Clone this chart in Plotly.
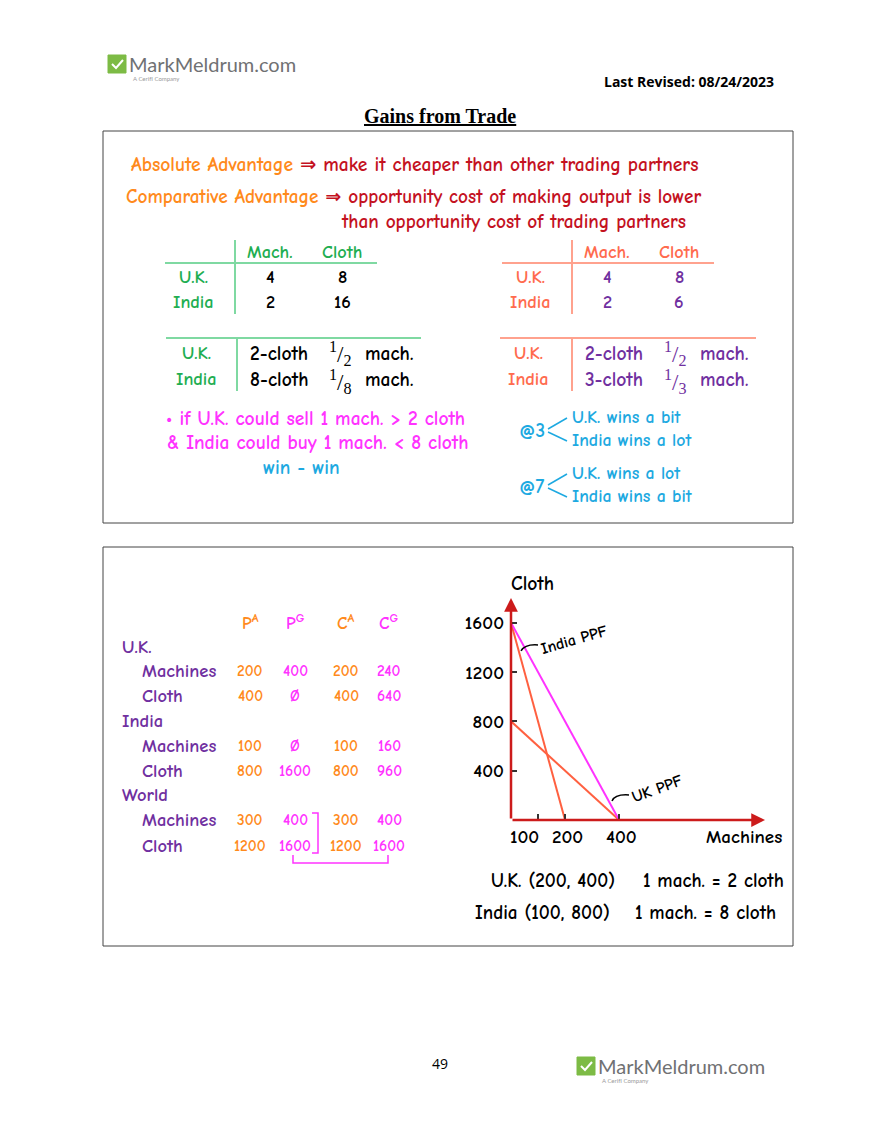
import plotly.graph_objects as go

# ==============================
# DATA
# ==============================

# opportunity-cost tables (top box)
t1_cols = ["Mach.", "Cloth"]
t1_rows = ["U.K.", "India"]
t1_left_vals = [["4", "8"], ["2", "16"]]
t1_right_vals = [["4", "8"], ["2", "6"]]

oc_left_cloth = ["2-cloth", "8-cloth"]
oc_left_den = ["2", "8"]
oc_right_cloth = ["2-cloth", "3-cloth"]
oc_right_den = ["2", "3"]

# trade table (bottom box)
trade_cols = ["P<sup>A</sup>", "P<sup>G</sup>", "C<sup>A</sup>", "C<sup>G</sup>"]
trade_groups = ["U.K.", "India", "World"]
trade_goods = ["Machines", "Cloth"]
p_autarky = ["200", "400", "100", "800", "300", "1200"]
p_gains = ["400", "Ø", "Ø", "1600", "400", "1600"]
c_autarky = ["200", "400", "100", "800", "300", "1200"]
c_gains = ["240", "640", "160", "960", "400", "1600"]

# PPF graph
machine_ticks = [100, 200, 400]
cloth_ticks = [400, 800, 1200, 1600]
india_ppf_x = [0, 200]
india_ppf_y = [1600, 0]
uk_ppf_x = [0, 400]
uk_ppf_y = [800, 0]
world_x = [0, 400]
world_y = [1600, 0]

# ==============================
# STYLE CONSTANTS
# ==============================

PAGE_W, PAGE_H = 880, 1139
OFF = 8  # body margin of the html page
W, H = PAGE_W - 2 * OFF, PAGE_H - 2 * OFF
HAND = "Comic Sans MS, Comic Neue, DejaVu Sans"
FS = 19.5
ORANGE = "#ff8a1c"
DARKRED = "#c4121f"
GREEN = "#1fae52"
GREEN_LINE = "#7fd9a2"
SALMON = "#ff6b4e"
SALMON_LINE = "#ffa28e"
PURPLE = "#7030a0"
MAGENTA = "#ff33ff"
CYAN = "#1da9e1"
AXIS_RED = "#cc1b1b"
PPF_ORANGE = "#ff6040"
LOGO_GREEN = "#7dbb45"
LOGO_GRAY = "#707173"

fig = go.Figure()


def px(x):
    return (x - OFF) / W


def py(y):
    return 1 - (y - OFF) / H


def text(x, y, s, size=FS, color="black", anchor="left", family=HAND,
         bold=True, angle=0):
    fig.add_annotation(
        x=px(x), y=py(y), xref="paper", yref="paper",
        text=f"<b>{s}</b>" if bold else s, showarrow=False,
        xanchor=anchor, yanchor="middle",
        textangle=angle,
        font=dict(family=family, size=size, color=color),
    )


def line(x0, y0, x1, y1, color, width=2):
    fig.add_shape(type="line", xref="paper", yref="paper",
                  x0=px(x0), y0=py(y0), x1=px(x1), y1=py(y1),
                  line=dict(color=color, width=width))


def path(cmds, color, width=2, fill=None):
    d = ""
    for c in cmds:
        if isinstance(c, str):
            d += c + " "
        else:
            d += f"{px(c[0]):.5f},{py(c[1]):.5f} "
    fig.add_shape(type="path", xref="paper", yref="paper", path=d.strip(),
                  line=dict(color=color, width=width),
                  fillcolor=fill if fill else "rgba(0,0,0,0)")


def rect(x0, y0, x1, y1, color="#444", width=1, fill=None):
    fig.add_shape(type="rect", xref="paper", yref="paper",
                  x0=px(x0), y0=py(y0), x1=px(x1), y1=py(y1),
                  line=dict(color=color, width=width),
                  fillcolor=fill if fill else "rgba(0,0,0,0)")


def logo(x, y):
    rect(x, y, x + 18, y + 18, color=LOGO_GREEN, width=1, fill=LOGO_GREEN)
    path(["M", (x + 4, y + 9), "L", (x + 8, y + 13), "L", (x + 15, y + 5)],
         "white", width=2)
    text(x + 19, y + 9, "MarkMeldrum.com", size=20, color=LOGO_GRAY,
         family="Lato, Open Sans", bold=False)
    text(x + 23, y + 23, "A CerifI Company", size=6, color="#9a9a9a",
         family="Lato, Open Sans", bold=False)


# ==============================
# HEADER / FOOTER
# ==============================

logo(108, 55)
text(776, 82, "Last Revised: 08/24/2023", size=14, anchor="right",
     family="Open Sans")
text(440, 116, "<u>Gains from Trade</u>", size=20, anchor="center",
     family="Liberation Serif")

text(440, 1063, "49", size=14, anchor="center", family="Open Sans", bold=False)
logo(577, 1057)

# ==============================
# TOP BOX
# ==============================

rect(103, 131, 793, 523)

text(129, 164, f'<span style="color:{ORANGE}">Absolute Advantage</span>'
     " ⇒ make it cheaper than other trading partners", color=DARKRED)
text(124, 197, f'<span style="color:{ORANGE}">Comparative Advantage</span>'
     " ⇒ opportunity cost of making output is lower", size=19.2,
     color=DARKRED)
text(339, 222, "than opportunity cost of trading partners", size=19.3,
     color=DARKRED)


def cost_table(x_split, row_x, col_x, head_color, line_color, val_color,
               vals):
    line(x_split - 70, 263, x_split + 142, 263, line_color)
    line(x_split, 240, x_split, 314, line_color)
    for cx, c in zip(col_x, t1_cols):
        text(cx, 252, c, size=18.3, color=head_color, anchor="center")
    for ry, r, row in zip([278, 302], t1_rows, vals):
        text(row_x, ry, r, size=18.3, color=head_color, anchor="center")
        for cx, v in zip(col_x, row):
            text(cx, ry, v, size=18.3, color=val_color, anchor="center")


cost_table(235, 193, [270, 342], GREEN, GREEN_LINE, "black", t1_left_vals)
cost_table(572, 530, [607, 679], SALMON, SALMON_LINE, PURPLE, t1_right_vals)


def oc_table(x0, x1, x_split, row_x, cloth_x, head_color, line_color,
             val_color, cloths, dens):
    line(x0, 338, x1, 338, line_color)
    line(x_split, 338, x_split, 391, line_color)
    for ry, r, cl, den in zip([353, 380], t1_rows, cloths, dens):
        text(row_x, ry, r, size=18.3, color=head_color, anchor="center")
        text(cloth_x - 1, ry, cl, color=val_color)
        text(cloth_x + 78, ry + 1, f"<sup>1</sup>/<sub>{den}</sub>", size=23,
             color=val_color, family="Liberation Serif", bold=False)
        text(cloth_x + 114, ry, "mach.", color=val_color)


oc_table(166, 421, 237, 196, 249, GREEN, GREEN_LINE, "black",
         oc_left_cloth, oc_left_den)
oc_table(500, 756, 572, 528, 584, SALMON, SALMON_LINE, PURPLE,
         oc_right_cloth, oc_right_den)

text(164, 418, "• if U.K. could sell 1 mach. > 2 cloth", color=MAGENTA)
text(165, 442, "& India could buy 1 mach. < 8 cloth", color=MAGENTA)
text(301, 467, "win - win", color=CYAN, anchor="center")

for cy, top, bottom in [(430, "U.K. wins a bit", "India wins a lot"),
                        (486, "U.K. wins a lot", "India wins a bit")]:
    text(517, cy, "@" + ("3" if cy == 430 else "7"), color=CYAN)
    line(548, cy - 1, 567, cy - 12, CYAN, 1.5)
    line(548, cy + 2, 567, cy + 11, CYAN, 1.5)
    text(570, cy - 13, top, size=17.8, color=CYAN)
    text(570, cy + 10, bottom, size=17.8, color=CYAN)

# ==============================
# BOTTOM BOX: TRADE TABLE
# ==============================

rect(103, 547, 793, 946)

col_x = [250, 295, 346, 389]
col_color = [ORANGE, MAGENTA, ORANGE, MAGENTA]
for cx, c, cc in zip(col_x, trade_cols, col_color):
    text(cx, 622, c, size=17.5, color=cc, anchor="center")

group_y = [647, 721, 795]
good_y = [671, 696, 746, 771, 820, 846]
for gy, g in zip(group_y, trade_groups):
    text(120, gy, g, size=18.5, color=PURPLE)
for i, gy in enumerate(good_y):
    text(140, gy, trade_goods[i % 2], size=18.5, color=PURPLE)
    cols = [p_autarky, p_gains, c_autarky, c_gains]
    for cx, col, cc in zip(col_x, cols, col_color):
        text(cx, gy, col[i], size=15.5, color=cc, anchor="center")

path(["M", (312, 813), "L", (318, 813), "L", (318, 853), "L", (312, 853)],
     MAGENTA, 1.5)
path(["M", (293, 855), "L", (293, 863), "L", (388, 863), "L", (388, 855)],
     MAGENTA, 1.5)

# ==============================
# BOTTOM BOX: PPF GRAPH
# ==============================

fig.add_trace(go.Scatter(x=india_ppf_x, y=india_ppf_y, mode="lines",
                         line=dict(color=PPF_ORANGE, width=2),
                         cliponaxis=False, hoverinfo="skip"))
fig.add_trace(go.Scatter(x=uk_ppf_x, y=uk_ppf_y, mode="lines",
                         line=dict(color=PPF_ORANGE, width=2),
                         cliponaxis=False, hoverinfo="skip"))
fig.add_trace(go.Scatter(x=world_x, y=world_y, mode="lines",
                         line=dict(color=MAGENTA, width=2),
                         cliponaxis=False, hoverinfo="skip"))

# axes with arrow heads
fig.add_annotation(x=0, y=1800, ax=0, ay=0, xref="x", yref="y",
                   axref="x", ayref="y", showarrow=True, arrowhead=2,
                   arrowsize=1.1, arrowwidth=2.5, arrowcolor=AXIS_RED, text="")
fig.add_annotation(x=940, y=0, ax=0, ay=0, xref="x", yref="y",
                   axref="x", ayref="y", showarrow=True, arrowhead=2,
                   arrowsize=1.1, arrowwidth=2.5, arrowcolor=AXIS_RED, text="")

# machine tick labels; the sketch puts "100" close to the origin
axis_font = dict(family=HAND, size=19, color="black")
for v in machine_ticks:
    fig.add_annotation(x=v, xref="x", y=py(837), yref="paper",
                       text=f"<b>{v}</b>", showarrow=False,
                       xanchor="center", yanchor="middle",
                       xshift=-14 if v == machine_ticks[0] else 2,
                       font=axis_font)

text(532, 583, "Cloth", anchor="center")
text(744, 837, "Machines", size=19, anchor="center")

text(574, 640, "India PPF", size=16, anchor="center", angle=-16)
path(["M", (521, 651), "Q", (525, 644), (538, 645)], "black", 1.5)
text(657, 789, "UK PPF", size=16, anchor="center", angle=-20)
path(["M", (612, 801), "Q", (615, 794), (629, 795)], "black", 1.5)

text(489, 881, "U.K. (200, 400)", size=19.2)
text(641, 881, "1 mach. = 2 cloth", size=19.2)
text(473, 913, "India (100, 800)", size=19.2)
text(633, 913, "1 mach. = 8 cloth", size=19.2)

fig.update_layout(
    width=W, height=H,
    margin=dict(l=0, r=0, t=0, b=0),
    paper_bgcolor="white",
    plot_bgcolor="rgba(0,0,0,0)",
    showlegend=False,
    xaxis=dict(domain=[px(511), px(765)], range=[0, 940],
               tickvals=machine_ticks, showticklabels=False,
               ticks="inside", ticklen=6,
               tickwidth=2, tickcolor="#333", showgrid=False,
               zeroline=False, showline=False, fixedrange=True),
    yaxis=dict(domain=[py(820), py(598)], range=[0, 1800],
               tickvals=cloth_ticks,
               ticktext=[f"<b>{v}</b>" for v in cloth_ticks],
               ticks="inside", ticklen=6,
               tickwidth=2, tickcolor="#333", showgrid=False,
               zeroline=False, showline=False, tickfont=axis_font,
               ticklabelstandoff=6, fixedrange=True),
)

fig.write_html("out.html")
